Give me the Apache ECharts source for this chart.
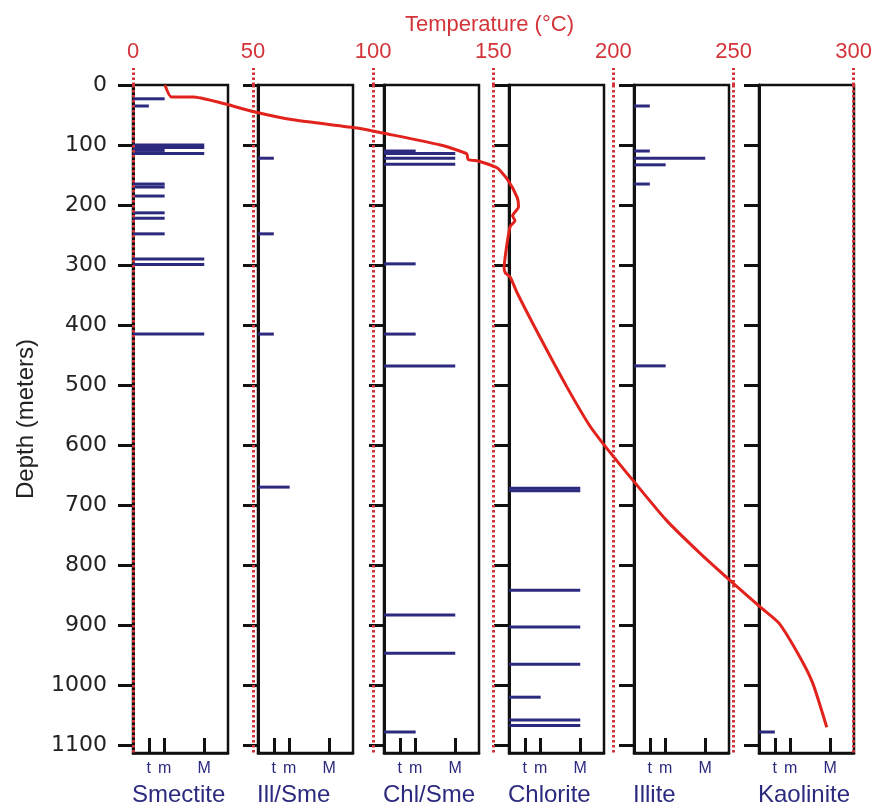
<!DOCTYPE html>
<html>
<head>
<meta charset="utf-8">
<script src="https://cdn.jsdelivr.net/npm/echarts@6.0.0/dist/echarts.min.js"></script>
<style>
  html, body { margin: 0; padding: 0; background: #fff; }
  #main { width: 875px; height: 806px; }
</style>
</head>
<body>
<div id="main"></div>
<script>
// abundance ticks along the bottom of each panel
var abundLabels = ['t', 'm', 'M'];
var abundValues = [1, 2, 4.5];

var depthTicks = [0, 100, 200, 300, 400, 500, 600, 700, 800, 900, 1000, 1100];
var tempTicks = [0, 50, 100, 150, 200, 250, 300];

var minerals = ['Smectite', 'Ill/Sme', 'Chl/Sme', 'Chlorite', 'Illite', 'Kaolinite'];

// depth (m) and abundance of each occurrence
var smectiteDepth = [23, 35, 100, 104, 109, 114, 165, 170, 185, 213, 222, 248, 290, 299, 415];
var smectiteAbund = ['m', 't', 'M', 'M', 'm', 'M', 'm', 'm', 'm', 'm', 'm', 'm', 'M', 'M', 'M'];

var illSmeDepth = [122, 248, 415, 670];
var illSmeAbund = ['t', 't', 't', 'm'];

var chlSmeDepth = [110, 114, 122, 132, 298, 415, 468, 883, 947, 1078];
var chlSmeAbund = ['m', 'M', 'M', 'M', 'm', 'm', 'M', 'M', 'M', 'm'];

var chloriteDepth = [672, 676, 842, 903, 965, 1020, 1058, 1067];
var chloriteAbund = ['M', 'M', 'M', 'M', 'M', 'm', 'M', 'M'];

var illiteDepth = [35, 110, 122, 133, 165, 468];
var illiteAbund = ['t', 't', 'M', 'm', 't', 'm'];

var kaoliniteDepth = [1078];
var kaoliniteAbund = ['t'];

// temperature log: [°C, depth m]
var tempProfile = [
    [13.3, 0], [16, 20], [25, 20], [35, 28], [50.8, 45], [66.6, 58], [94, 72], [104, 80],
    [128, 100], [136, 110], [139, 115], [139.5, 124], [144, 127], [151.5, 138], [156, 158],
    [160, 188], [160.5, 203], [158, 218], [159, 226], [157, 236], [155.5, 270], [154.5, 305],
    [155, 313], [157, 320], [160, 347], [169.4, 420], [180.6, 503], [190, 567], [195.6, 597],
    [209, 663], [222, 725], [236, 780], [248.4, 825], [261.8, 872], [269, 897], [277.6, 953],
    [283, 997], [288.8, 1070]
];

var depthSets = [smectiteDepth, illSmeDepth, chlSmeDepth, chloriteDepth, illiteDepth, kaoliniteDepth];
var abundSets = [smectiteAbund, illSmeAbund, chlSmeAbund, chloriteAbund, illiteAbund, kaoliniteAbund];

var BAR_COLOR = '#2c2a7e';
var RED = '#d3343a';
var DEPTH_MAX = 1113;
var panelLeft = [133, 258, 384, 509, 634, 759];
var PANEL_W = 95, TOP = 85, H = 668;

var myChart = echarts.init(document.getElementById('main'));

function barItem(params, api) {
    var a = api.coord([0, api.value(1)]);
    var b = api.coord([api.value(0), api.value(1)]);
    return {
        type: 'rect',
        shape: { x: a[0], y: a[1] - 1.5, width: b[0] - a[0], height: 3 },
        style: { fill: BAR_COLOR }
    };
}

var grid = [], xAxis = [], yAxis = [], series = [], graphic = [];

minerals.forEach(function (name, i) {
    grid.push({
        left: panelLeft[i], top: TOP, width: PANEL_W, height: H,
        show: true, borderColor: '#111', borderWidth: 2.5, backgroundColor: 'transparent'
    });
    xAxis.push({
        gridIndex: i, type: 'value', min: 0, max: 6, position: 'bottom',
        axisLine: { show: true, onZero: false, lineStyle: { color: '#111', width: 2.5 } },
        axisTick: { show: true, inside: true, length: 15, customValues: abundValues,
            lineStyle: { color: '#111', width: 3 } },
        axisLabel: { show: true, customValues: abundValues, margin: 8,
            color: BAR_COLOR, fontSize: 16, fontFamily: 'Liberation Sans',
            formatter: function (v) { return abundLabels[abundValues.indexOf(v)] || ''; } },
        splitLine: { show: false }
    });
    yAxis.push({
        gridIndex: i, type: 'value', min: 0, max: DEPTH_MAX, inverse: true,
        name: i === 0 ? 'Depth (meters)' : '',
        nameLocation: 'middle', nameGap: 95,
        nameTextStyle: { fontSize: 24, color: '#222', fontFamily: 'Liberation Sans' },
        axisLine: { show: true, onZero: false, lineStyle: { color: '#111', width: 3 } },
        axisTick: { show: true, length: 15, customValues: depthTicks,
            lineStyle: { color: '#111', width: 3 } },
        axisLabel: { show: i === 0, customValues: depthTicks, margin: 26,
            fontSize: 22, color: '#222', fontFamily: 'DejaVu Sans',
            formatter: function (v) { return String(v); } },
        splitLine: { show: false }
    });

    var data = depthSets[i].map(function (d, k) {
        return [abundValues[abundLabels.indexOf(abundSets[i][k])], d];
    });
    series.push({
        type: 'custom', xAxisIndex: i, yAxisIndex: i,
        renderItem: barItem, data: data, clip: false, z: 2, silent: true
    });

    graphic.push({
        type: 'text', left: panelLeft[i] - 1, top: 783,
        style: { text: name, fill: BAR_COLOR, fontSize: 24, fontFamily: 'Liberation Sans' }
    });
});

// temperature overlay
grid.push({ left: 133, top: TOP, width: 721, height: H, show: false });
xAxis.push({
    gridIndex: 6, type: 'value', min: 0, max: 300, interval: 50, position: 'top', z: 5,
    axisLine: { show: false, onZero: false },
    axisTick: { show: true, length: 17, lineStyle: { color: RED, width: 3, type: [2.5, 2.5] } },
    axisLabel: { margin: 22, color: RED, fontSize: 22, fontFamily: 'Liberation Sans',
        formatter: function (v) { return String(v); } },
    splitLine: { show: true, lineStyle: { color: RED, width: 3, type: [2.5, 2.5] } }
});
yAxis.push({
    gridIndex: 6, type: 'value', min: 0, max: DEPTH_MAX, inverse: true, show: false,
    splitLine: { show: false }
});
series.push({
    type: 'line', xAxisIndex: 6, yAxisIndex: 6, data: tempProfile,
    showSymbol: false, smooth: 0.2, z: 6, silent: true,
    lineStyle: { color: '#e2231d', width: 3 }
});

graphic.push({
    type: 'text', left: 405, top: 14,
    style: { text: 'Temperature (°C)', fill: RED, fontSize: 22, fontFamily: 'Liberation Sans' }
});

var option = {
    animation: false,
    backgroundColor: '#fff',
    grid: grid,
    xAxis: xAxis,
    yAxis: yAxis,
    series: series,
    graphic: graphic
};

myChart.setOption(option);
</script>
</body>
</html>
